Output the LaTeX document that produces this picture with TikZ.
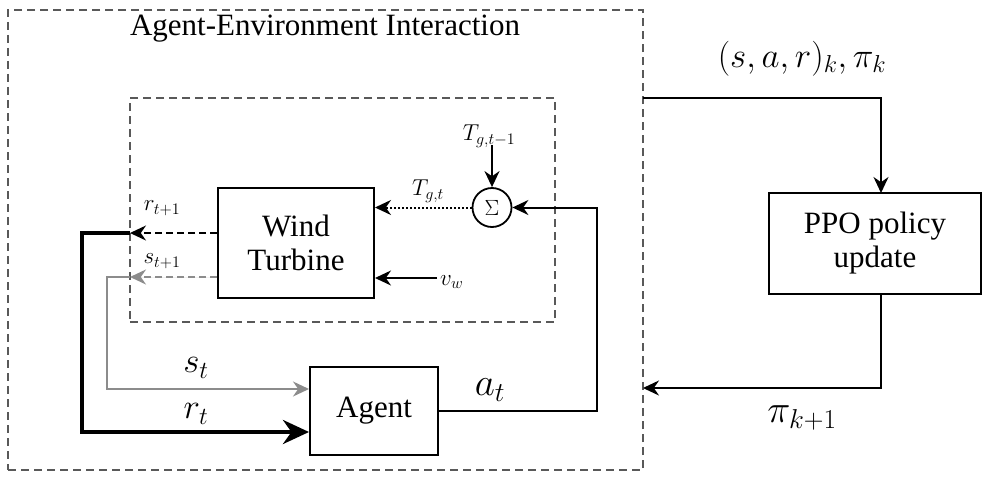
\RequirePackage{fix-cm}
\documentclass[tikz,border=0pt]{standalone}
\usepackage[no-math]{fontspec}
\setmainfont{Liberation Serif}
\usetikzlibrary{arrows.meta}
\tikzset{
  blk/.style={draw, line width=2pt, align=center, font=\fontsize{31}{34}\selectfont, inner sep=0pt},
  dbox/.style={draw=black!65, dash pattern=on 8pt off 5pt, line width=1.6pt, inner sep=0pt},
  arr/.style={-{Stealth[length=16pt,width=15pt]}, line width=2pt},
  dsh/.style={dash pattern=on 7pt off 4pt},
  lbl/.style={font=\fontsize{23}{25}\selectfont, inner sep=0pt},
  biglbl/.style={font=\fontsize{35}{38}\selectfont, inner sep=0pt},
  hugelbl/.style={font=\fontsize{39}{42}\selectfont, inner sep=0pt},
}
\begin{document}
\begin{tikzpicture}[x=1pt,y=-1pt]
\useasboundingbox (0,0) rectangle (982,479);
% containers
\node[dbox, minimum width=635pt, minimum height=460pt] (env) at (325.5,240) {};
\node[dbox, minimum width=425pt, minimum height=224pt] (plant) at (342.5,210) {};
\node[font=\fontsize{31}{34}\selectfont] (title) at (325,29) {Agent-Environment Interaction};
% blocks
\node[blk, minimum width=156pt, minimum height=110pt] (wt) at (296,243) {Wind\\Turbine};
\node[blk, minimum width=128pt, minimum height=88pt] (agent) at (374,411) {Agent};
\node[blk, minimum width=212pt, minimum height=101pt] (ppo) at (875,243.5) {PPO policy\\update};
\node[circle, draw, line width=1.8pt, minimum size=39pt, inner sep=0pt, font=\fontsize{22}{24}\selectfont] (sum) at (492,207.5) {$\Sigma$};
% coordinates
\coordinate (tin) at (492,145);
\coordinate (vw) at (437,278);
\coordinate (rout) at (130,233);
\coordinate (sout) at (130,277);
\coordinate (aturn) at (597,207.5);
\coordinate (outk) at (643,98);
\coordinate (ppoin) at (881,193);
\coordinate (ppoout) at (881,294);
\coordinate (inp) at (643,388);
% labels
\node[lbl] (ltprev) at (489,136) {$T_{g,t-1}$};
\node[lbl] (ltg) at (428,191) {$T_{g,t}$};
\node[lbl, anchor=west] (lvw) at (440,282) {$v_w$};
\node[lbl] (lr1) at (162,208) {$r_{t+1}$};
\node[lbl] (ls1) at (162,261) {$s_{t+1}$};
\node[biglbl] (lst) at (196,368) {$s_t$};
\node[biglbl] (lrt) at (196,414) {$r_t$};
\node[hugelbl] (lat) at (490,390) {$a_t$};
\node[biglbl] (lsar) at (802,59) {$(s,a,r)_k,\pi_k$};
\node[hugelbl] (lpi) at (802,418) {$\pi_{k+1}$};
% connectors
\draw[arr] (tin) -- (sum.north);
\draw[arr, dotted] (sum.west) -- (sum.west -| wt.east);
\draw[arr] (vw) -- (vw -| wt.east);
\draw[arr, dsh] (rout -| wt.west) -- (rout);
\draw[arr, dsh, draw=black!45, fill=black!45] (sout -| wt.west) -- (sout);
\draw[line width=4pt, -{Stealth[length=26pt,width=24pt]}] (rout) -- (82,233) |- ([yshift=-21pt]agent.west);
\draw[line width=2pt, draw=black!45, -{Stealth[length=16pt,width=15pt,fill=black!45]}] (sout) -- (107,277) |- ([yshift=22pt]agent.west);
\draw[arr] (agent.east) -| (aturn) -- (sum.east);
\draw[arr] (outk) -| (ppoin);
\draw[arr] (ppoout) |- (inp);
\end{tikzpicture}
\end{document}
